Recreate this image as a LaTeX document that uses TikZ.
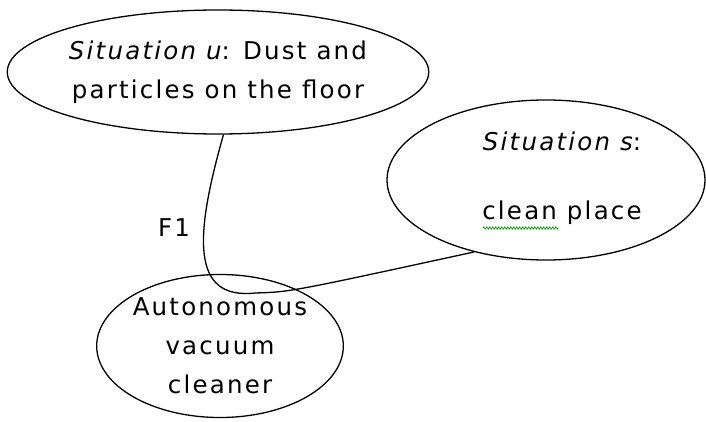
\documentclass[tikz,border=0pt]{standalone}
\usepackage{fontspec}
\setmainfont{DejaVu Sans}[LetterSpace=9]
\usetikzlibrary{shapes.geometric,decorations.pathmorphing}
\begin{document}
\begin{tikzpicture}[x=1pt,y=-1pt,
  bubble/.style={draw,ellipse,line width=1.3pt,inner sep=0pt,align=center,
    font=\fontsize{24.5}{39}\selectfont},
  txt/.style={inner sep=0pt,align=center,font=\fontsize{24.5}{39}\selectfont},
  conn/.style={line width=1.3pt},
  lbl/.style={font=\fontsize{24.5}{28}\selectfont,inner sep=0pt}]
\useasboundingbox (0,0) rectangle (706,422);
\node[bubble,minimum width=410pt,minimum height=124pt] (u) at (218,72)
  {\itshape Situation u\upshape: Dust and\\particles on the floor};
\node[bubble,minimum width=318pt,minimum height=160pt] (s) at (546,180) {};
\node[txt] (st) at (562,178) {\itshape Situation s\upshape:\\[30pt]clean place};
\node[bubble,minimum width=246pt,minimum height=143pt] (a) at (220,346)
  {Autonomous\\vacuum\\cleaner};
\node[lbl] (f1) at (174,228) {F1};
\coordinate (k) at (255,293);
\draw[conn] (u.275) .. controls (195,235) and (190,300) .. (k)
  .. controls (290,292) .. (s.225);
\draw[green!60!black,line width=0.6pt,decorate,
  decoration={zigzag,segment length=3pt,amplitude=1.2pt}] (483,228) -- (558,228);
\end{tikzpicture}
\end{document}
